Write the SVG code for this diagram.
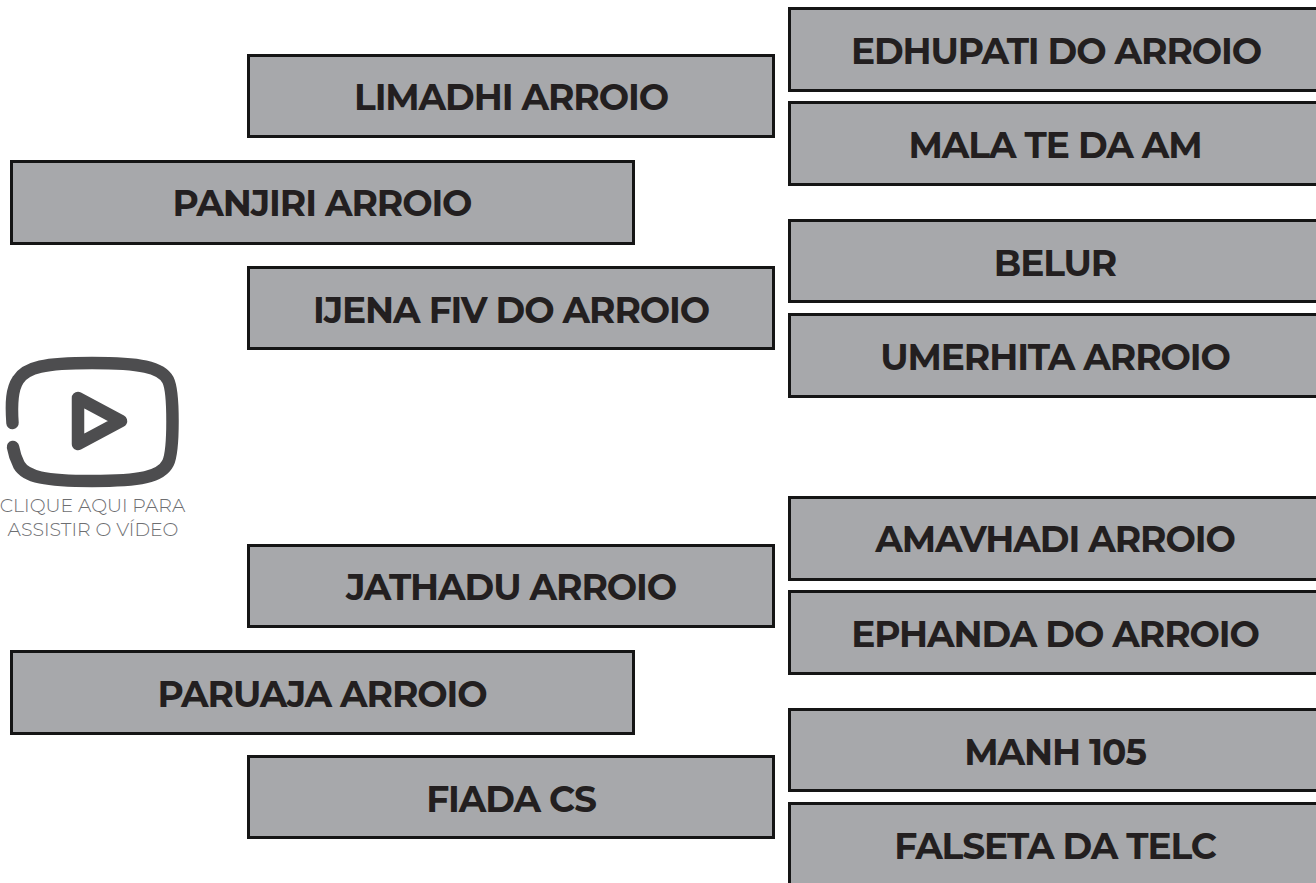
<svg xmlns="http://www.w3.org/2000/svg" width="1316" height="883" viewBox="0 0 1316 883">
<style>
.b{fill:#a7a8ab;stroke:#151515;stroke-width:3}
.t{font-family:Montserrat,"Inter","Liberation Sans",sans-serif;font-weight:700;font-size:36px;letter-spacing:-1.1px;fill:#231f20;text-anchor:middle}
.c{font-family:Montserrat,"Inter","Liberation Sans",sans-serif;font-weight:300;font-size:18.9px;fill:#6d6e71;text-anchor:middle}
.i{fill:none;stroke:#4d4d4f;stroke-width:12.500;stroke-linecap:round;stroke-linejoin:round}
</style>
<rect width="1316" height="883" fill="#fff"/>
<g id="n-limadhi"><rect class="b" x="248.500" y="55.500" width="525" height="81"/><text class="t" x="511" y="110">LIMADHI ARROIO</text></g>
<g id="n-panjiri"><rect class="b" x="11.500" y="161.500" width="622" height="82"/><text class="t" x="322" y="216">PANJIRI ARROIO</text></g>
<g id="n-ijena"><rect class="b" x="248.500" y="267.500" width="525" height="81"/><text class="t" x="511" y="323">IJENA FIV DO ARROIO</text></g>
<g id="n-jathadu"><rect class="b" x="248.500" y="545.500" width="525" height="81"/><text class="t" x="511" y="600">JATHADU ARROIO</text></g>
<g id="n-paruaja"><rect class="b" x="11.500" y="651.500" width="622" height="82"/><text class="t" x="322" y="707">PARUAJA ARROIO</text></g>
<g id="n-fiada"><rect class="b" x="248.500" y="756.500" width="525" height="81"/><text class="t" x="511" y="812">FIADA CS</text></g>
<g id="n-edhupati"><rect class="b" x="789.500" y="8.500" width="540" height="82"/><text class="t" x="1056" y="64">EDHUPATI DO ARROIO</text></g>
<g id="n-mala"><rect class="b" x="789.500" y="102.500" width="540" height="82"/><text class="t" x="1055" y="158">MALA TE DA AM</text></g>
<g id="n-belur"><rect class="b" x="789.500" y="220.500" width="540" height="81"/><text class="t" x="1055" y="276">BELUR</text></g>
<g id="n-umerhita"><rect class="b" x="789.500" y="314.500" width="540" height="82"/><text class="t" x="1055" y="370">UMERHITA ARROIO</text></g>
<g id="n-amavhadi"><rect class="b" x="789.500" y="497.500" width="540" height="82"/><text class="t" x="1055" y="552">AMAVHADI ARROIO</text></g>
<g id="n-ephanda"><rect class="b" x="789.500" y="591.500" width="540" height="82"/><text class="t" x="1055" y="647">EPHANDA DO ARROIO</text></g>
<g id="n-manh"><rect class="b" x="789.500" y="709.500" width="540" height="81"/><text class="t" x="1055" y="765">MANH 105</text></g>
<g id="n-falseta"><rect class="b" x="789.500" y="803.500" width="540" height="82"/><text class="t" x="1055" y="859">FALSETA DA TELC</text></g>
<g id="video">
<path class="i" d="M12.500 423C11 402 12 389 18 380C26 367 45 363 92 363C140 363 161 367 168 380C174 392 174 450 168 463C161 477 140 481 92 481C45 481 26 477 19 465C16 459 14 453 13 447"/>
<path class="i" d="M78 398L121 421L78 444Z"/>
<text class="c" x="92.500" y="512">CLIQUE AQUI PARA</text>
<text class="c" x="93" y="536">ASSISTIR O VÍDEO</text>
</g>
</svg>
